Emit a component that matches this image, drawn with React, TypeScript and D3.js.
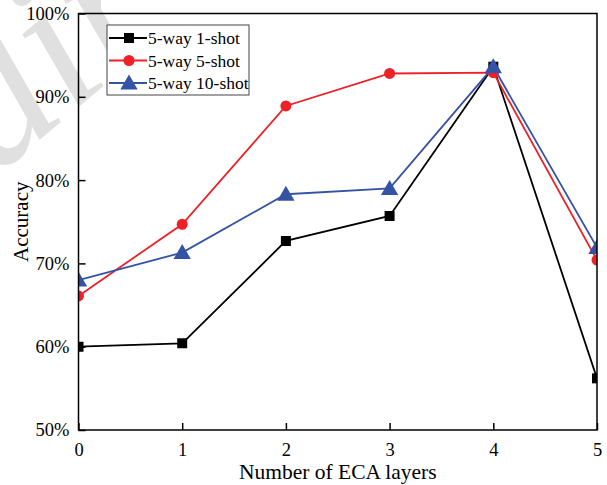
import React, { useEffect, useRef } from 'react';
import * as d3 from 'd3';

// ECA layer counts on the x axis
const layers = [0, 1, 2, 3, 4, 5];
// accuracy (%)
const oneShot = [60.0, 60.4, 72.7, 75.7, 93.6, 56.2];
const fiveShot = [66.1, 74.7, 88.9, 92.8, 92.9, 70.4];
const tenShot = [68.0, 71.3, 78.3, 79.0, 93.6, 71.9];
const yTicks = [50, 60, 70, 80, 90, 100];
const seriesNames = ['5-way 1-shot', '5-way 5-shot', '5-way 10-shot'];
const seriesColors = ['#000000', '#ee2127', '#3553a5'];
const seriesShapes = [d3.symbolSquare, d3.symbolCircle, d3.symbolTriangle];

export default function App() {
  const ref = useRef<SVGSVGElement>(null);

  useEffect(() => {
    const width = 607;
    const height = 485;
    const margin = { top: 13.5, right: 10, bottom: 55, left: 78.5 };
    const font = '"Liberation Serif", "Times New Roman", serif';

    const svg = d3.select(ref.current);
    svg.selectAll('*').remove();
    svg.attr('width', width).attr('height', height);

    // faint watermark behind the plot
    svg.append('text')
      .attr('transform', 'translate(-6,178) rotate(-40)')
      .attr('font-family', font)
      .attr('font-style', 'italic')
      .attr('font-size', 200)
      .attr('fill', '#e0e0e0')
      .text('dir');

    const x = d3.scaleLinear()
      .domain([0, 5])
      .range([margin.left, width - margin.right]);
    const y = d3.scaleLinear()
      .domain([50, 100])
      .range([height - margin.bottom, margin.top]);

    svg.append('clipPath').attr('id', 'plotclip')
      .append('rect')
      .attr('x', x(0)).attr('y', y(100))
      .attr('width', x(5) - x(0)).attr('height', y(50) - y(100));

    const data = [oneShot, fiveShot, tenShot];
    const line = d3.line<number>()
      .x((d, i) => x(layers[i]))
      .y(d => y(d));

    const plot = svg.append('g').attr('clip-path', 'url(#plotclip)');
    data.forEach((vals, s) => {
      plot.append('path')
        .attr('d', line(vals))
        .attr('fill', 'none')
        .attr('stroke', seriesColors[s])
        .attr('stroke-width', 1.8);
    });
    data.forEach((vals, s) => {
      const size = s === 2 ? 130 : s === 0 ? 100 : 95;
      plot.selectAll(null)
        .data(vals)
        .enter()
        .append('path')
        .attr('d', d3.symbol().type(seriesShapes[s]).size(size))
        .attr('transform', (d, i) => `translate(${x(layers[i])},${y(d) + (s === 2 ? 1.5 : 0)})`)
        .attr('fill', seriesColors[s]);
    });

    // frame
    svg.append('rect')
      .attr('x', x(0)).attr('y', y(100))
      .attr('width', x(5) - x(0)).attr('height', y(50) - y(100))
      .attr('fill', 'none')
      .attr('stroke', '#000')
      .attr('stroke-width', 1.5);

    // inward ticks
    const xAxis = svg.append('g')
      .attr('transform', `translate(0,${y(50)})`)
      .call(d3.axisBottom(x).tickValues(layers).tickSizeInner(-7).tickSizeOuter(0).tickPadding(13).tickFormat(d3.format('d')));
    const yAxis = svg.append('g')
      .attr('transform', `translate(${x(0)},0)`)
      .call(d3.axisLeft(y).tickValues(yTicks).tickSizeInner(-7).tickSizeOuter(0).tickPadding(9).tickFormat(d => `${d}%`));
    [xAxis, yAxis].forEach(g => {
      g.select('.domain').remove();
      g.selectAll('line').attr('stroke', '#000').attr('stroke-width', 1.5);
      g.selectAll('text')
        .attr('font-family', font)
        .attr('font-size', 18.5)
        .attr('fill', '#000');
    });

    svg.append('text')
      .attr('x', (x(0) + x(5)) / 2)
      .attr('y', 479)
      .attr('text-anchor', 'middle')
      .attr('font-family', font)
      .attr('font-size', 21.5)
      .text('Number of ECA layers');

    svg.append('text')
      .attr('transform', `translate(28,${(y(50) + y(100)) / 2}) rotate(-90)`)
      .attr('text-anchor', 'middle')
      .attr('font-family', font)
      .attr('font-size', 21)
      .text('Accuracy');

    // legend
    const lg = svg.append('g');
    lg.append('rect')
      .attr('x', 107).attr('y', 25)
      .attr('width', 142).attr('height', 70)
      .attr('fill', '#fff')
      .attr('stroke', '#444')
      .attr('stroke-width', 1);
    seriesNames.forEach((name, s) => {
      const cy = 38 + s * 22.5;
      lg.append('line')
        .attr('x1', 109).attr('x2', 147)
        .attr('y1', cy).attr('y2', cy)
        .attr('stroke', seriesColors[s])
        .attr('stroke-width', 1.8);
      lg.append('path')
        .attr('d', d3.symbol().type(seriesShapes[s]).size(s === 2 ? 130 : s === 0 ? 100 : 95))
        .attr('transform', `translate(129,${cy + (s === 2 ? 1.5 : 0)})`)
        .attr('fill', seriesColors[s]);
      lg.append('text')
        .attr('x', 148).attr('y', cy + 6)
        .attr('font-family', font)
        .attr('font-size', 17.5)
        .text(name);
    });
  }, []);

  return <svg ref={ref} style={{ position: 'absolute', left: 0, top: 0 }} />;
}
